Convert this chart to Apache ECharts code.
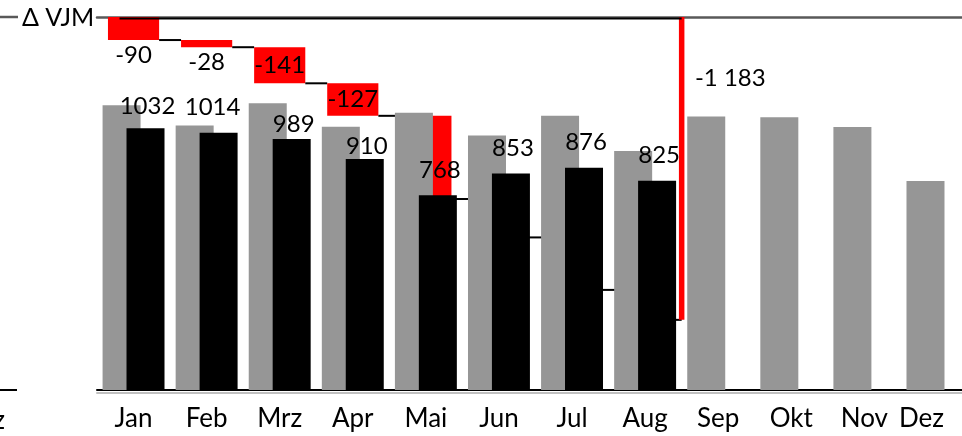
<!DOCTYPE html>
<html>
<head>
<meta charset="utf-8">
<script src="https://cdn.jsdelivr.net/npm/echarts@6/dist/echarts.min.js"></script>
<style>
  html, body { margin: 0; padding: 0; background: #fff; }
  #chart { width: 962px; height: 436px; }
</style>
</head>
<body>
<div id="chart"></div>
<script>
// Monthly revenue: prior year (grey) vs. current year (black), with the
// running deviation from the prior year (ΔVJM) hanging from the top line.
const months = ['Jan', 'Feb', 'Mrz', 'Apr', 'Mai', 'Jun', 'Jul', 'Aug', 'Sep', 'Okt', 'Nov', 'Dez'];
const priorYear = [1122, 1042, 1130, 1037, 1093, 1003, 1081, 942, 1078, 1075, 1036, 824];
const currentYear = [1032, 1014, 989, 910, 768, 853, 876, 825];
const labeledDeltaMonths = 4;

const FONT = 'Lato';
const RED = '#ff0000';
const GREY = '#969696';

// Monthly deltas and the running sum that the waterfall steps through
const deltas = currentYear.map((v, i) => v - priorYear[i]);
let running = 0;
const steps = deltas.map((d, i) => {
  const from = running;
  running += d;
  return [i, from, running, d];
});
const total = running;

const fmt = n => String(n).replace(/\B(?=(\d{3})+(?!\d))/g, ' ');

// Per-label nudges for the current-year values
const valueLabelTweaks = {
  0: { distance: 10 },
  1: { offset: [-6, 0] },
  2: { distance: 3 },
  3: { distance: 1 }
};

function renderStep(params, api) {
  const i = api.value(0);
  const from = api.value(1);
  const to = api.value(2);
  const d = api.value(3);
  const band = api.size([1, 0])[0];
  const w = band * 0.7;
  const x = api.coord([i, from])[0];
  const yTop = api.coord([i, from])[1];
  const yBot = api.coord([i, to])[1];
  const last = i === steps.length - 1;
  const nextLeft = last ? x + band / 2 : x + band - w / 2;
  const h = yBot - yTop;
  const rect = {
    type: 'rect',
    shape: { x: x - w / 2, y: yTop, width: w, height: h },
    style: { fill: RED }
  };
  if (i < labeledDeltaMonths) {
    rect.textContent = {
      style: { text: fmt(d), fill: '#000', font: '24px ' + FONT }
    };
    rect.textConfig = { position: h > 26 ? 'inside' : 'bottom', distance: 3 };
  }
  return {
    type: 'group',
    children: [
      rect,
      {
        type: 'line',
        shape: { x1: x + w / 2, y1: yBot, x2: nextLeft, y2: yBot },
        style: { stroke: '#000', lineWidth: 2 }
      }
    ]
  };
}

function renderTotal(params, api) {
  const i = api.value(0);
  const v = api.value(1);
  const band = api.size([1, 0])[0];
  const x = api.coord([i, 0])[0] + band / 2;
  const y0 = api.coord([i, 0])[1];
  const y1 = api.coord([i, v])[1];
  const xStart = api.coord([0, 0])[0] - 14;
  return {
    type: 'group',
    children: [
      {
        type: 'rect',
        shape: { x: x - 2.75, y: y0, width: 5.5, height: y1 - y0 },
        style: { fill: RED },
        textContent: {
          style: {
            text: fmt(v), fill: '#000', font: '24px ' + FONT,
            align: 'left', verticalAlign: 'middle'
          }
        },
        textConfig: { position: [16, 61] }
      },
      {
        type: 'line',
        shape: { x1: xStart, y1: y0 + 1.5, x2: x, y2: y0 + 1.5 },
        style: { stroke: '#000', lineWidth: 2 }
      }
    ]
  };
}

const chart = echarts.init(document.getElementById('chart'), null, { renderer: 'canvas' });

chart.setOption({
  animation: false,
  backgroundColor: '#fff',
  textStyle: { fontFamily: FONT },
  grid: { left: 97, top: 17, bottom: 46, width: 877, outerBoundsMode: 'none', containLabel: false },
  xAxis: [
    {
      type: 'category',
      data: months,
      position: 'bottom',
      axisLine: {
        lineStyle: { color: '#000', width: 2, shadowColor: '#c0c0c0', shadowOffsetY: 3, shadowBlur: 0 }
      },
      axisTick: { show: false },
      axisLabel: {
        interval: 0,
        hideOverlap: false,
        color: '#000',
        fontSize: 26,
        fontFamily: FONT,
        margin: 16,
        formatter: (m, idx) => idx === months.length - 1 ? '{shift|' + m + '}' : m,
        rich: { shift: { fontSize: 26, fontFamily: FONT, color: '#000', padding: [0, 32, 0, 0] } }
      },
      splitLine: { show: false }
    },
    {
      type: 'category',
      data: months,
      position: 'top',
      axisLine: { lineStyle: { color: '#595959', width: 2.5 } },
      axisTick: { show: false },
      axisLabel: { show: false },
      splitLine: { show: false }
    }
  ],
  yAxis: [
    { type: 'value', min: 0, max: 1470, show: false },
    { type: 'value', min: -1457, max: 0, show: false }
  ],
  graphic: [
    { type: 'line', shape: { x1: 0, y1: 17, x2: 18, y2: 17 }, style: { stroke: '#595959', lineWidth: 2.5 } },
    { type: 'text', x: 22, y: 18, style: { text: 'Δ VJM', font: '25px ' + FONT, fill: '#000', verticalAlign: 'middle' } },
    { type: 'line', shape: { x1: 0, y1: 390, x2: 17, y2: 390 }, style: { stroke: '#000', lineWidth: 2 } },
    { type: 'text', x: 5, y: 421, style: { text: 'Dez', font: '26px ' + FONT, fill: '#000', align: 'right', verticalAlign: 'middle' } }
  ],
  series: [
    {
      name: 'ΔVJM',
      type: 'custom',
      xAxisIndex: 0,
      yAxisIndex: 1,
      z: 1,
      renderItem: renderStep,
      data: steps
    },
    {
      name: 'ΔVJM gesamt',
      type: 'custom',
      xAxisIndex: 0,
      yAxisIndex: 1,
      z: 1,
      renderItem: renderTotal,
      data: [[steps.length - 1, total]]
    },
    {
      name: 'Vorjahr',
      type: 'bar',
      xAxisIndex: 0,
      yAxisIndex: 0,
      barWidth: 38,
      barGap: '-37%',
      itemStyle: { color: GREY },
      z: 2,
      data: priorYear
    },
    {
      name: 'Ist',
      type: 'bar',
      xAxisIndex: 0,
      yAxisIndex: 0,
      barWidth: 38,
      barGap: '-37%',
      itemStyle: { color: '#000' },
      z: 3,
      label: {
        show: true,
        position: 'top',
        distance: 13,
        offset: [2, 0],
        color: '#000',
        fontSize: 24,
        fontFamily: FONT
      },
      data: currentYear.map((v, i) => Object.assign({ value: v }, valueLabelTweaks[i] ? { label: valueLabelTweaks[i] } : {}))
    }
  ]
});
</script>
</body>
</html>
